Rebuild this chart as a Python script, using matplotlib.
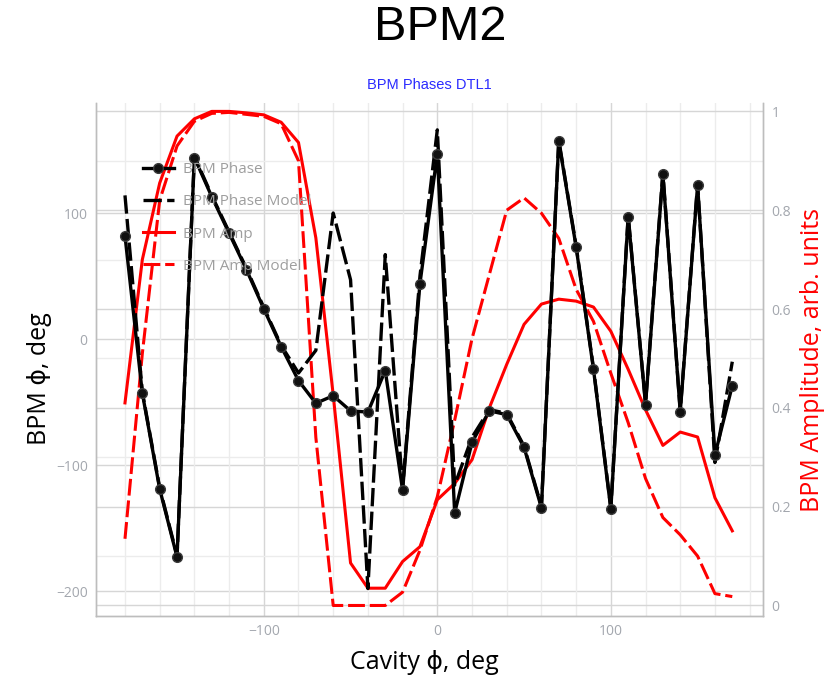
import matplotlib
matplotlib.use("Agg")
import matplotlib.pyplot as plt
from matplotlib.lines import Line2D
from matplotlib.ticker import MultipleLocator
import matplotlib.transforms as mtransforms

# cavity phase scan, deg
cavity = [-180, -170, -160, -150, -140, -130, -120, -110, -100, -90,
          -80, -70, -60, -50, -40, -30, -20, -10, 0, 10,
          20, 30, 40, 50, 60, 70, 80, 90, 100, 110,
          120, 130, 140, 150, 160, 170]

bpm_phase = [82, -43, -119, -173, 144, 113, 84, 55, 24, -6,
             -33, -51, -45, -57, -58, -25, -120, 44, 147, -138,
             -82, -57, -60, -86, -134, 157, 73, -24, -135, 97,
             -52, 131, -58, 122, -92, -37]

bpm_phase_model = [114, -42, -118, -172, 145, 114, 85, 56, 25, -5,
                   -27, -9, 100, 47, -198, 67, -118, 50, 166, -116,
                   -78, -56, -59, -85, -133, 158, 74, -23, -134, 98,
                   -51, 132, -57, 123, -98, -18]

bpm_amp = [0.41, 0.70, 0.855, 0.95, 0.985, 1.0, 1.0, 0.997, 0.993, 0.978,
           0.937, 0.744, 0.426, 0.086, 0.035, 0.035, 0.089, 0.119, 0.214, 0.247,
           0.295, 0.40, 0.488, 0.569, 0.61, 0.62, 0.616, 0.604, 0.555, 0.478,
           0.396, 0.324, 0.351, 0.341, 0.218, 0.151]

bpm_amp_model = [0.135, 0.51, 0.82, 0.93, 0.98, 0.996, 0.998, 0.994, 0.99, 0.975,
                 0.90, 0.34, 0.0, 0.0, 0.0, 0.0, 0.027, 0.112, 0.22, 0.375,
                 0.54, 0.67, 0.80, 0.825, 0.794, 0.743, 0.64, 0.575, 0.47, 0.37,
                 0.257, 0.178, 0.143, 0.10, 0.024, 0.018]

txt_font = ["Open Sans", "DejaVu Sans"]
tick_col = "#a3a7ae"
grid_minor = "#ececec"
grid_major = "#d6d6d6"
spine_col = "#bdbdbd"

fig = plt.figure(figsize=(8.33, 6.79), dpi=100)
ax = fig.add_axes([0.11525, 0.09278, 0.80072, 0.75552])
ax2 = ax.twinx()

# phase axes on top, amplitude (and all grids) underneath
ax.set_zorder(2)
ax2.set_zorder(1)
ax.patch.set_visible(False)
ax2.patch.set_visible(True)
ax2.patch.set_facecolor("white")

ax.set_xlim(-196.7, 187.7)
ax.set_ylim(-219.8, 187.3)
ax2.set_ylim(-0.0213, 1.017)

ax.xaxis.set_major_locator(MultipleLocator(100))
ax.xaxis.set_minor_locator(MultipleLocator(20))
ax.yaxis.set_major_locator(MultipleLocator(100))
ax2.yaxis.set_major_locator(MultipleLocator(0.2))
ax2.yaxis.set_minor_locator(MultipleLocator(0.1))

# grids all drawn on the lower axes
ax2.xaxis.set_visible(True)
ax2.xaxis.set_major_locator(MultipleLocator(100))
ax2.xaxis.set_minor_locator(MultipleLocator(20))
ax2.tick_params(axis="x", which="both", bottom=False, top=False,
                labelbottom=False, labeltop=False)
ax2.grid(axis="x", which="minor", color=grid_minor, lw=1)
ax2.grid(axis="x", which="major", color=grid_major, lw=1)
ax2.grid(axis="y", which="minor", color=grid_minor, lw=1)
ax2.grid(axis="y", which="major", color=grid_major, lw=1)
left_tr = mtransforms.blended_transform_factory(ax2.transAxes, ax.transData)
for v in ax.get_yticks():
    if -219.8 < v < 187.3:
        ax2.add_line(Line2D([0, 1], [v, v], transform=left_tr,
                            color=grid_major, lw=1, zorder=0.5))
ax2.set_axisbelow(True)

# amplitude traces
ax2.plot(cavity, bpm_amp, color="#ff0000", lw=2.2, zorder=3)
ax2.plot(cavity, bpm_amp_model, color="#ff0000", lw=2.2, dashes=(5.5, 1.6), zorder=3)

# phase traces
l1, = ax.plot(cavity, bpm_phase, color="black", lw=2.4, marker="o", ms=7,
              mfc="#111111", mec="#3a3a3a", mew=1, zorder=4)
l2, = ax.plot(cavity, bpm_phase_model, color="black", lw=2.4, dashes=(5.5, 1.6), zorder=3)

for a in (ax, ax2):
    a.spines["top"].set_visible(False)
    for s in ["left", "bottom", "right"]:
        a.spines[s].set_color(spine_col)
        a.spines[s].set_linewidth(1)

ax.tick_params(axis="both", which="both", length=0, colors=tick_col, labelsize=10, pad=6)
ax2.tick_params(axis="y", which="both", length=0, colors=tick_col, labelsize=10, pad=6)
for lab in ax.get_xticklabels() + ax.get_yticklabels() + ax2.get_yticklabels():
    lab.set_family(txt_font)
ax2.yaxis.set_major_formatter(plt.FuncFormatter(lambda v, p: "%g" % round(v, 2)))

handles = [
    l1, l2,
    Line2D([], [], color="#ff0000", lw=2.2),
    Line2D([], [], color="#ff0000", lw=2.2, dashes=(5.5, 1.6)),
]
labels = ["BPM Phase", "BPM Phase Model", "BPM Amp", "BPM Amp Model"]
leg = ax.legend(handles, labels, loc="upper left", bbox_to_anchor=(0.0705, 0.885),
                frameon=False, borderaxespad=0, borderpad=0, handlelength=2.0,
                handletextpad=0.62, labelspacing=1.13, numpoints=1,
                prop={"family": txt_font, "size": 11})
for t in leg.get_texts():
    t.set_color("#9e9e9e")

fig.text(0.528, 0.960, "BPM2", ha="center", va="center", fontsize=35,
         family=["Liberation Sans", "DejaVu Sans"], color="black")
fig.text(0.5156, 0.875, "BPM Phases DTL1", ha="center", va="center", fontsize=10.5,
         family=["Liberation Sans", "DejaVu Sans"], color="#2b2bff")
fig.text(0.510, 0.025, "Cavity ϕ, deg", ha="center", va="center", fontsize=18,
         family=txt_font, color="black")
fig.text(0.048, 0.443, "BPM ϕ, deg", ha="center", va="center", fontsize=18,
         rotation=90, family=txt_font, color="black")
fig.text(0.975, 0.47, "BPM Amplitude, arb. units", ha="center", va="center",
         fontsize=18, rotation=90, family=txt_font, color="#ff0000")

fig.savefig("out.png", dpi=100)
